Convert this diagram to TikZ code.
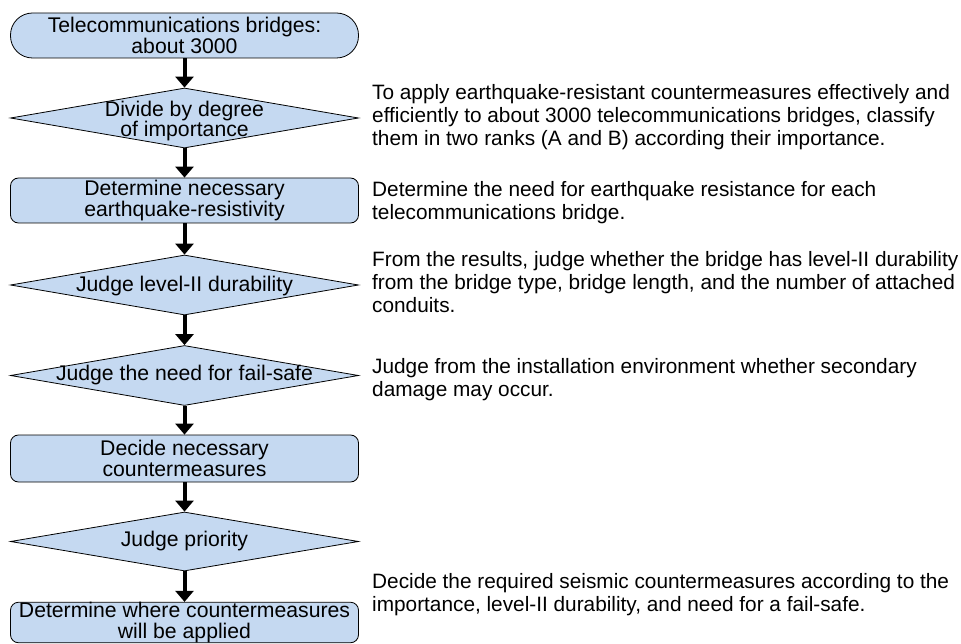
\documentclass[tikz,border=0pt]{standalone}
\usepackage{fontspec}
\setmainfont{Liberation Sans}
\usetikzlibrary{shapes.geometric,arrows.meta}
\definecolor{boxblue}{RGB}{197,217,241}
\begin{document}
\begin{tikzpicture}[x=1pt,y=-1pt,
  every node/.style={font=\fontsize{21.2}{20.5}\selectfont},
  proc/.style={draw=black, line width=0.8pt, fill=boxblue, rounded corners=8pt, minimum width=348pt, minimum height=45pt, inner sep=0pt, align=center},
  term/.style={proc, rounded corners=22pt},
  dec/.style={draw=black, line width=0.8pt, fill=boxblue, diamond, minimum width=348pt, minimum height=60pt, inner sep=0pt},
  lbl/.style={inner sep=0pt, align=center},
  note/.style={inner sep=0pt, align=left, anchor=north west, font=\fontsize{20.8}{23}\selectfont},
  flow/.style={line width=4pt, -{Triangle[width=18pt,length=11pt]}}
]
\useasboundingbox (0,0) rectangle (961,644);
\node[term] (n1) at (184.5,35.5) {Telecommunications bridges:\\about 3000};
\node[dec] (n2) at (184.5,118) {};
\node[lbl] (n2t) at (184.5,121) {Divide by degree\\of importance};
\node[proc] (n3) at (184.5,200.5) {Determine necessary\\earthquake-resistivity};
\node[dec] (n4) at (184.5,285) {};
\node[lbl] (n4t) at (184.5,286) {Judge level-II durability};
\node[dec] (n5) at (184.5,375.5) {};
\node[lbl] (n5t) at (n5) {Judge the need for fail-safe};
\node[proc, minimum height=47pt] (n6) at (184.5,458.5) {Decide necessary\\countermeasures};
\node[dec, minimum height=59pt] (n7) at (184.5,541.5) {};
\node[lbl] (n7t) at (n7) {Judge priority};
\node[proc, minimum height=40.5pt] (n8) at (184.5,622.5) {Determine where countermeasures\\will be applied};
\draw[flow] (n1.south) -- (n2.north);
\draw[flow] (n2.south) -- (n3.north);
\draw[flow] (n3.south) -- (n4.north);
\draw[flow] (n4.south) -- (n5.north);
\draw[flow] (n5.south) -- (n6.north);
\draw[flow] (n6.south) -- (n7.north);
\draw[flow] (n7.south) -- (n8.north);
\node[note] (c1) at (372,84) {To apply earthquake-resistant countermeasures effectively and\\efficiently to about 3000 telecommunications bridges, classify\\them in two ranks (A and B) according their importance.};
\node[note] (c2) at (372,181) {Determine the need for earthquake resistance for each\\telecommunications bridge.};
\node[note] (c3) at (372,251) {From the results, judge whether the bridge has level-II durability\\from the bridge type, bridge length, and the number of attached\\conduits.};
\node[note] (c4) at (372,358) {Judge from the installation environment whether secondary\\damage may occur.};
\node[note] (c5) at (372,573) {Decide the required seismic countermeasures according to the\\importance, level-II durability, and need for a fail-safe.};
\end{tikzpicture}
\end{document}
